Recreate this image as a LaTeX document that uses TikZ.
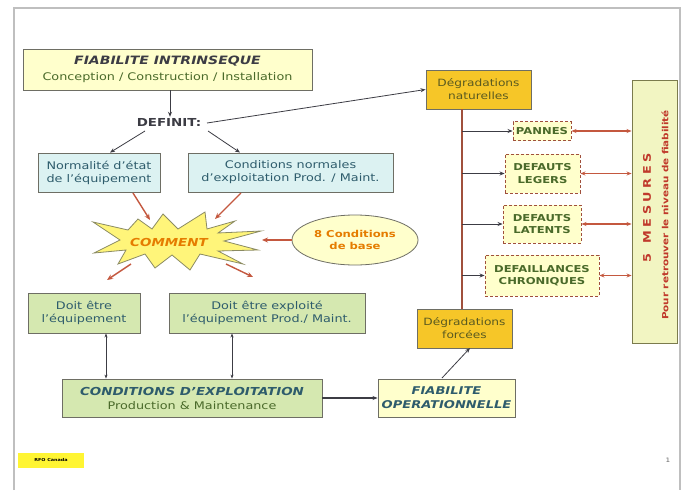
\documentclass[tikz,border=0pt]{standalone}
\usepackage{fontspec}
\setmainfont{DejaVu Sans}[FakeStretch=1.22]
\usetikzlibrary{shapes.geometric,arrows.meta}
\definecolor{lyellow}{HTML}{FFFFCC}
\definecolor{lcyan}{HTML}{DCF2F2}
\definecolor{lgreen}{HTML}{D5E8B0}
\definecolor{gold}{HTML}{F6C628}
\definecolor{mesfill}{HTML}{F2F5C2}
\definecolor{bord}{HTML}{6E6E64}
\definecolor{redarr}{HTML}{C4583F}
\definecolor{darkline}{HTML}{3C3C44}
\definecolor{tealtxt}{HTML}{2E5C6C}
\definecolor{greentxt}{HTML}{4A6A2A}
\definecolor{orangetxt}{HTML}{E57C00}
\definecolor{olivetxt}{HTML}{5A5A20}
\definecolor{redtxt}{HTML}{C0392B}
\definecolor{brownline}{HTML}{A0503C}
\definecolor{burst}{HTML}{FFF57A}
\tikzset{
  box/.style={draw=bord, line width=0.9pt, align=center, inner sep=1pt,
    font=\fontsize{10.5}{13}\selectfont},
  ybox/.style={box, fill=lyellow},
  cbox/.style={box, fill=lcyan, text=tealtxt},
  gbox/.style={box, fill=lgreen, text=tealtxt},
  goldbox/.style={box, fill=gold, text=olivetxt, font=\fontsize{10}{13}\selectfont},
  defbox/.style={box, fill=lyellow, draw=brownline, densely dashed, text=greentxt,
    font=\bfseries\fontsize{9.5}{12.5}\selectfont},
  darr/.style={darkline, line width=0.8pt, -{Stealth[length=5pt,width=4pt]}},
  rarr/.style={redarr, line width=1.4pt, -{Stealth[length=6pt,width=5pt]}},
  rdarr/.style={redarr, line width=1.2pt, {Stealth[length=5pt,width=4pt]}-{Stealth[length=5pt,width=4pt]}},
  vdarr/.style={darkline, line width=0.6pt, {Stealth[length=4pt,width=3pt]}-{Stealth[length=4pt,width=3pt]}},
}
\begin{document}
\begin{tikzpicture}[x=1pt,y=-1pt]
\useasboundingbox (0,0) rectangle (687,490);
\fill[white] (0,0) rectangle (687,490);
\draw[black!25, line width=1.2pt] (14,490) -- (14,8) -- (680,8) -- (680,490);

% top
\node[ybox, minimum width=289pt, minimum height=41pt] (fi) at (167.5,69.5)
  {{\bfseries\itshape\fontsize{11.5}{13}\selectfont\color{darkline}FIABILITE INTRINSEQUE}\\[3pt]
   {\color{greentxt}Conception / Construction / Installation}};
\node[text=darkline, font=\bfseries\fontsize{11}{13}\selectfont, inner sep=1pt] (def) at (169,122) {DEFINIT:};
\draw[darr] (fi.south -| 170,0) -- (def.north -| 170,0);

\node[cbox, minimum width=122pt, minimum height=39pt] (norm) at (99,172.5)
  {Normalité d'état\\de l'équipement};
\node[cbox, minimum width=205pt, minimum height=39pt] (cond) at (290.5,172.5)
  {Conditions normales\\d'exploitation Prod. / Maint.};
\draw[darr] (145,131) -- (norm.north -| 110,0);
\draw[darr] (208,131) -- (cond.north -| 240,0);

% comment starburst
\draw[draw=olivetxt!70, fill=burst, line width=0.8pt, line join=miter]
  (93,222) -- (128,230) -- (138,219) -- (152,229) -- (163,214) -- (178,229) --
  (205,212) -- (207,229) -- (235,221) -- (218,233) -- (261,231) -- (224,241) --
  (258,250) -- (218,251) -- (243,264) -- (200,254) -- (190,270) -- (172,255) --
  (155,268) -- (145,254) -- (118,264) -- (126,250) -- (94,253) -- (120,240) -- cycle;
\node[text=orangetxt, font=\bfseries\itshape\fontsize{11}{13}\selectfont, inner sep=1pt] (com) at (169,242) {COMMENT};

\node[ellipse, draw=bord, fill=lyellow, line width=0.8pt, minimum width=126pt, minimum height=50pt,
  align=center, text=orangetxt, inner sep=0pt, font=\bfseries\fontsize{9.5}{12.5}\selectfont] (cb) at (355,240)
  {8 Conditions\\de base};
\draw[rarr] (cb.west) -- (262,240);
\draw[rarr] (133,193) -- (150,220);
\draw[rarr] (241,193) -- (215,219);
\draw[rarr] (131,264) -- (107,280);
\draw[rarr] (226,264) -- (253,277);

% doit etre
\node[gbox, minimum width=112pt, minimum height=40pt] (d1b) at (84,313)
  {Doit être\\l'équipement};
\node[gbox, minimum width=196pt, minimum height=40pt] (d2b) at (267,313)
  {Doit être exploité\\l'équipement Prod./ Maint.};
\node[gbox, minimum width=260pt, minimum height=38pt] (ce) at (192,398)
  {{\bfseries\itshape\fontsize{11}{13}\selectfont CONDITIONS D'EXPLOITATION}\\[1pt]
   {\color{greentxt}Production \& Maintenance}};
\draw[vdarr] (d1b.south -| 106,0) -- (ce.north -| 106,0);
\draw[vdarr] (d2b.south -| 232,0) -- (ce.north -| 232,0);

\node[ybox, minimum width=137pt, minimum height=38pt, text=tealtxt,
  font=\bfseries\itshape\fontsize{10.7}{14}\selectfont] (fo) at (446.5,398)
  {FIABILITE\\OPERATIONNELLE};
\draw[darr, line width=1.2pt] (ce.east) -- (fo.west);

% degradations
\node[goldbox, minimum width=105pt, minimum height=39pt] (dn) at (478.5,89.5)
  {Dégradations\\naturelles};
\node[goldbox, minimum width=95pt, minimum height=39pt] (df) at (464.5,328.5)
  {Dégradations\\forcées};
\draw[darr] (207,123) -- (dn.west);
\draw[darr] (442,378) -- (470,348);
\draw[brownline, line width=1.2pt] (462,109) -- (462,309);

\node[defbox, minimum width=58pt, minimum height=19pt] (pan) at (542,131) {PANNES};
\node[defbox, minimum width=75pt, minimum height=39pt] (leg) at (542.5,173.5) {DEFAUTS\\LEGERS};
\node[defbox, minimum width=78pt, minimum height=38pt] (lat) at (542,224) {DEFAUTS\\LATENTS};
\node[defbox, minimum width=114pt, minimum height=41pt] (chr) at (542,275.5) {DEFAILLANCES\\CHRONIQUES};
\foreach \n in {pan,leg,lat,chr}{
  \draw[darr, line width=0.7pt] (462,0 |- \n.west) -- (\n.west);
}

\node[draw=olivetxt!80, line width=0.9pt, fill=mesfill, minimum width=45pt, minimum height=263pt] (mes) at (654.5,211.5) {};
\node[rotate=90, text=redtxt, font=\bfseries\fontsize{10.5}{13}\selectfont] (mt) at (647,208) {5\quad M\,\,E\,\,S\,\,U\,\,R\,\,E\,\,S};
\node[rotate=90, text=redtxt, font=\bfseries\fontsize{8.5}{10}\selectfont] (pr) at (665,215) {Pour retrouver le niveau de fiabilité};
\foreach \n in {pan,leg,lat,chr}{
  \draw[rdarr] (\n.east) -- (mes.west |- \n.east);
}

% footer
\node[fill=yellow!80, minimum width=66pt, minimum height=15pt, inner sep=1pt,
  font=\bfseries\fontsize{4}{5}\selectfont] (ft) at (51,460) {RFO Canada};
\node[font=\fontsize{6}{7}\selectfont, text=black!60] (pg) at (668,460) {1};
\end{tikzpicture}
\end{document}
